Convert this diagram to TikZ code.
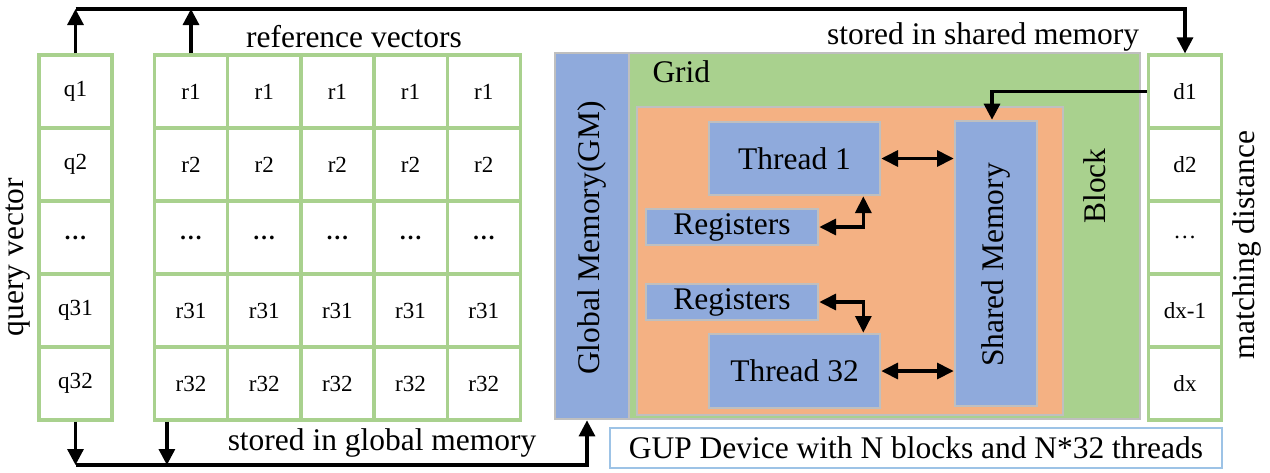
\documentclass[tikz,border=0pt]{standalone}
\usepackage{fontspec}
\setmainfont{Liberation Serif}
\usetikzlibrary{arrows.meta}

\definecolor{cellgreen}{RGB}{169,209,142}
\definecolor{memblue}{RGB}{143,170,220}
\definecolor{blockorange}{RGB}{244,177,131}
\definecolor{edgegray}{RGB}{191,191,191}
\definecolor{capblue}{RGB}{157,195,230}

\newcommand{\bigtext}{\fontsize{23.6}{28}\selectfont}
\newcommand{\celltext}{\fontsize{17.3}{20}\selectfont}

\tikzset{every picture/.style={line width=0.75pt}}
\tikzset{
  cell/.style={draw=cellgreen, line width=2.4pt, fill=white, minimum width=54.75pt, minimum height=54.75pt, inner sep=0pt, font=\celltext},
  membox/.style={draw=edgegray, line width=2pt, fill=memblue, inner sep=0pt, font=\bigtext},
  bus/.style={line width=2.4pt, -{Triangle[length=12pt,width=12pt]}},
  link/.style={line width=2.4pt, {Triangle[length=12.5pt,width=12pt]}-{Triangle[length=12.5pt,width=12pt]}},
  label/.style={inner sep=0pt, font=\bigtext},
}

\begin{document}
\begin{tikzpicture}[x=0.75pt,y=0.75pt,yscale=-1,xscale=1]
    \useasboundingbox (0,0) rectangle (1270,472);

    % query vector column
    \foreach \lbl [count=\i] in {q1,q2,\textbf{…},q31,q32}
      \node[cell] (q\i) at (75.5,18.5+73*\i) {\lbl};
    % reference vectors
    \foreach \lbl [count=\i] in {r1,r2,\textbf{…},r31,r32}
      \foreach \j in {1,...,5}
        \node[cell] (r\i\j) at (117.8+73.2*\j,18.5+73*\i) {\lbl};
    % matching distance column
    \foreach \lbl [count=\i] in {d1,d2,…,dx-1,dx}
      \node[cell] (d\i) at (1185,18.5+73*\i) {\lbl};

    % GPU device
    \node[membox, minimum width=55.5pt, minimum height=274.5pt] (gm) at (592,236) {};
    \node[label, rotate=90] (gmtext) at (592,238) {Global Memory(GM)};
    \node[membox, fill=cellgreen, minimum width=383.25pt, minimum height=274.5pt] (grid) at (884.5,236) {};
    \node[label, anchor=west] (gridtext) at (652,72) {Grid};
    \node[membox, fill=blockorange, minimum width=319.5pt, minimum height=231pt] (block) at (850,261) {};
    \node[label, rotate=90] (blocktext) at (1095,186) {Block};
    \node[membox, minimum width=128.25pt, minimum height=54.75pt] (t1) at (794.5,158.5) {Thread 1};
    \node[membox, minimum width=129pt, minimum height=27pt] (reg1) at (732,227) {Registers};
    \node[membox, minimum width=129pt, minimum height=27pt] (reg2) at (732,302) {Registers};
    \node[membox, minimum width=128.25pt, minimum height=55.5pt] (t32) at (794.5,371) {Thread 32};
    \node[membox, minimum width=61.5pt, minimum height=213.75pt] (sm) at (996,263.5) {};
    \node[label, rotate=90] (smtext) at (996,265) {Shared Memory};

    % caption
    \node[draw=capblue, line width=2pt, fill=white, minimum width=459pt, minimum height=30pt, inner sep=0pt, font=\bigtext] (cap) at (916,448) {GUP Device with N blocks and N*32 threads};

    % texts
    \node[label] (reftext) at (354,37) {reference vectors};
    \node[label] (sharedtext) at (983,37) {stored in shared memory};
    \node[label] (globaltext) at (382,443) {stored in global memory};
    \node[label, rotate=90] (qtext) at (18,257) {query vector};
    \node[label, rotate=90] (dtext) at (1247,245) {matching distance};

    % buses
    \coordinate (topbus) at (75.5,9);
    \coordinate (botbus) at (75.5,465);
    \draw[bus] (q1.north) -- (q1.north |- topbus);
    \draw[bus] (r11.north) -- (r11.north |- topbus);
    \draw[bus] (q1.north |- topbus) -| (d1.north);
    \draw[bus] (q5.south) -- (q5.south |- botbus);
    \draw[bus] ([xshift=10.5pt]r51.south west) -- ([xshift=10.5pt]r51.south west |- botbus);
    \draw[bus] (q5.south |- botbus) -| ([xshift=-3.75pt]gm.south);
    \draw[bus] (d1.west) -| ([xshift=-3pt]sm.north);

    % links inside the block
    \draw[link] (t1.east) -- (t1.east -| sm.west);
    \draw[link] (t32.east) -- (t32.east -| sm.west);
    \draw[link] (reg1.east) -| ([xshift=-13.5pt]t1.south east);
    \draw[link] (reg2.east) -| ([xshift=-13.5pt]t32.north east);
\end{tikzpicture}
\end{document}
